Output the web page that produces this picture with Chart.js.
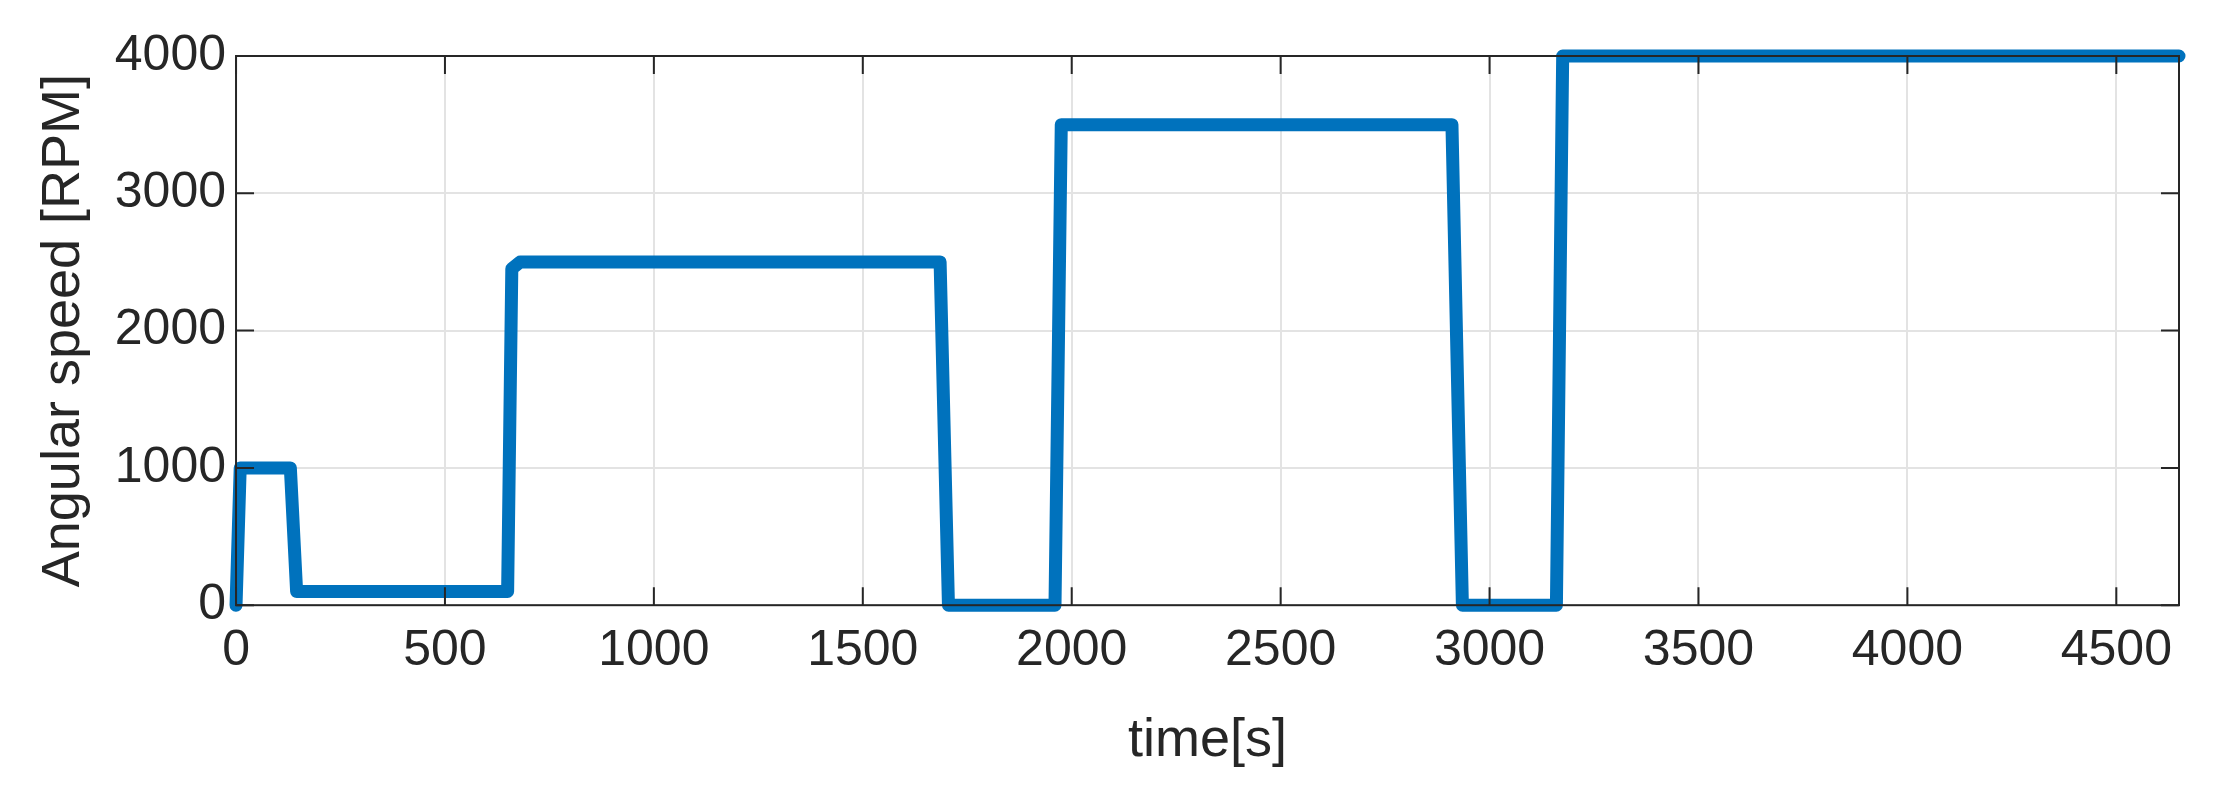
<!DOCTYPE html>
<html><head><meta charset="utf-8">
<script src="https://cdn.jsdelivr.net/npm/chart.js@4"></script>
<style>html,body{margin:0;background:#fff}#w{width:2214px;height:792px}</style>
</head><body><div id="w"><canvas id="c"></canvas></div>
<script>
const timeS = [0,10,130,145,650,660,680,1685,1705,1960,1975,2910,2935,3160,3175,4650];
const speedRPM = [0,1000,1000,100,100,2450,2500,2500,0,0,3500,3500,0,0,4000,4000];
const xTicks = [0,500,1000,1500,2000,2500,3000,3500,4000,4500];
const yTicks = [0,1000,2000,3000,4000];
const boxPlugin = {id:'box', afterDatasetsDraw(ch){
  const {ctx,chartArea:a,scales:{x,y}} = ch;
  ctx.save(); ctx.strokeStyle='#262626'; ctx.lineWidth=2;
  ctx.strokeRect(a.left,a.top,a.right-a.left,a.bottom-a.top);
  ctx.beginPath();
  xTicks.forEach(v=>{const p=x.getPixelForValue(v);ctx.moveTo(p,a.bottom);ctx.lineTo(p,a.bottom-18);ctx.moveTo(p,a.top);ctx.lineTo(p,a.top+18);});
  yTicks.forEach(v=>{const p=y.getPixelForValue(v);ctx.moveTo(a.left,p);ctx.lineTo(a.left+18,p);ctx.moveTo(a.right,p);ctx.lineTo(a.right-18,p);});
  ctx.stroke(); ctx.restore();
}};
new Chart(document.getElementById('c'),{
  type:'line',
  data:{datasets:[{data:timeS.map((t,i)=>({x:t,y:speedRPM[i]})),borderColor:'#0072BD',borderWidth:13,pointRadius:0,tension:0,borderJoinStyle:'round',borderCapStyle:'round',clip:false}]},
  options:{responsive:true,maintainAspectRatio:false,animation:false,
    layout:{padding:{left:28,right:35,top:56,bottom:14}},
    plugins:{legend:{display:false},tooltip:{enabled:false}},
    scales:{
      x:{type:'linear',min:0,max:4650,afterBuildTicks:s=>{s.ticks=xTicks.map(v=>({value:v}))},
        grid:{color:'#e3e3e3',lineWidth:2,tickLength:0},border:{display:false},
        ticks:{color:'#262626',font:{family:'Liberation Sans',size:50},padding:16,maxRotation:0,callback:v=>String(v)},
        title:{display:true,text:'time[s]',color:'#262626',font:{family:'Liberation Sans',size:54},padding:{top:12}}},
      y:{min:0,max:4000,afterBuildTicks:s=>{s.ticks=yTicks.map(v=>({value:v}))},
        grid:{color:'#e3e3e3',lineWidth:2,tickLength:0},border:{display:false},
        ticks:{color:'#262626',font:{family:'Liberation Sans',size:50},padding:10,callback:v=>String(v)},
        title:{display:true,text:'Angular speed [RPM]',color:'#262626',font:{family:'Liberation Sans',size:54},padding:{bottom:8}}}
    }},
  plugins:[boxPlugin]
});
</script></body></html>
